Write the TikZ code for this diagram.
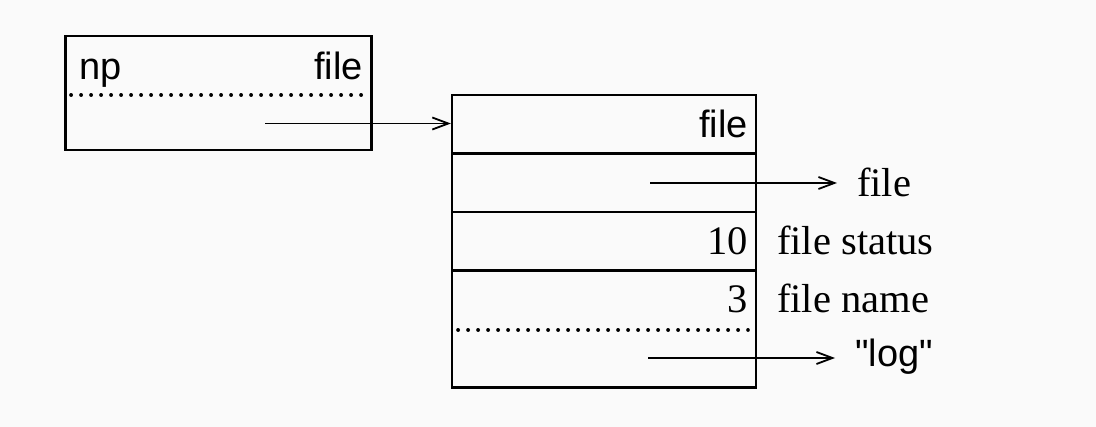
\documentclass[tikz,border=0pt]{standalone}
\usepackage{fontspec}
\setmainfont{Liberation Serif}
\setsansfont{Liberation Sans}[Ligatures = TeXOff]
\usetikzlibrary{positioning,arrows.meta}

\begin{document}
\begin{tikzpicture}[x = 1pt, y = -1pt, node distance = 58.5pt,
  cell/.style = {rectangle, draw, line width = 2.3pt, minimum width = 304pt,
    minimum height = 58.5pt, inner sep = 0pt},
  sval/.style = {font = \fontsize{38}{45}\sffamily, inner sep = 0pt},
  rval/.style = {font = \fontsize{40.5}{48}\selectfont, inner sep = 0pt},
  ptr/.style = {-{Straight Barb[length = 16pt, width = 12pt]}, line width = 1.8pt},
  dots/.style = {line width = 3.6pt, line cap = round, dash pattern = on 0.2pt off 9.8pt}]
  \fill [black!2] (0,0) rectangle (1096,427);
  \useasboundingbox (0,0) rectangle (1096,427);

  \node [cell, minimum width = 306pt, minimum height = 114pt] (np) at (218.5,93) {};
  \node [sval, anchor = base west] (npname) at (79,80) {np};
  \node [sval, anchor = base east] (npfile) at (363,80) {file};
  \draw [dots] (71,95) -- (366,95);
  \coordinate (p1) at (265,123.5);

  \node [cell] (r1) at (604,124.25) {};
  \node [cell, below of = r1] (r2) {};
  \node [cell, below of = r2] (r3) {};
  \node [cell, below of = r3, node distance = 87.75pt,
  minimum height = 117pt] (r4) {};
  \draw [ptr] (p1) -- (p1 -| r1.west);

  \node [sval, anchor = base east] (r1val) at (748,138) {file};
  \coordinate (p2) at (650,183);
  \node [rval, anchor = base west] (flink) at (857,197) {file};
  \draw [ptr, shorten > = 20pt] (p2) -- (p2 -| flink.west);

  \node [rval, anchor = base east] (r3val) at (748,255) {10};
  \node [rval, anchor = base west] (fstat) at (777,255) {file status};

  \node [rval, anchor = base east] (r4val) at (748,313) {3};
  \node [rval, anchor = base west] (fname) at (777,313) {file name};
  \draw [dots] (458,330) -- (748,330);
  \coordinate (p5) at (648,358);
  \node [sval, anchor = base west] (logstr) at (855,367) {"log"};
  \draw [ptr, shorten > = 20pt] (p5) -- (p5 -| logstr.west);
\end{tikzpicture}
\end{document}
